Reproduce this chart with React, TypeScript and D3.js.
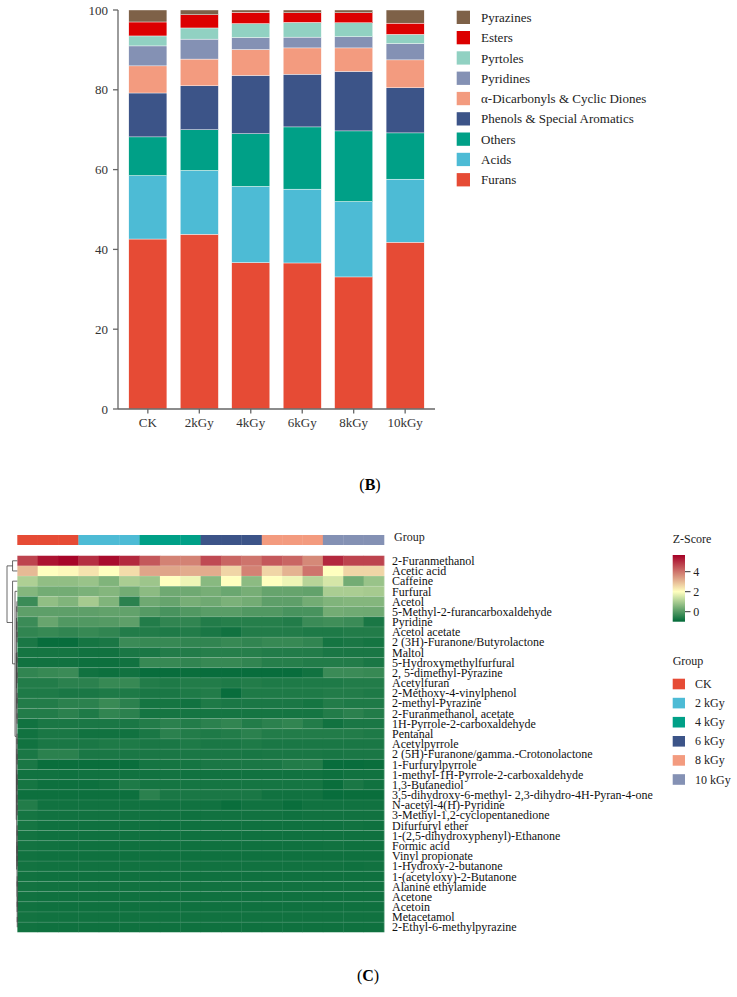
import React from 'react';
import * as d3 from 'd3';

// ---- panel B: relative content (%) of volatile classes
const groups = ['CK', '2kGy', '4kGy', '6kGy', '8kGy', '10kGy'];
const categories = [
  'Furans',
  'Acids',
  'Others',
  'Phenols & Special Aromatics',
  'α-Dicarbonyls & Cyclic Diones',
  'Pyridines',
  'Pyrtoles',
  'Esters',
  'Pyrazines',
];
const furans = [42.6, 43.8, 36.7, 36.6, 33.1, 41.8];
const acids = [15.9, 16.0, 19.1, 18.5, 18.9, 15.8];
const others = [9.7, 10.2, 13.2, 15.6, 17.7, 11.6];
const phenols = [11.0, 11.0, 14.6, 13.2, 14.9, 11.3];
const diones = [6.8, 6.7, 6.5, 6.6, 5.9, 7.0];
const pyridines = [5.0, 5.0, 3.0, 2.7, 2.8, 4.1];
const pyrtoles = [2.5, 2.8, 3.5, 3.7, 3.5, 2.3];
const esters = [3.5, 3.3, 2.8, 2.4, 2.5, 2.8];
const pyrazines = [3.0, 1.2, 0.6, 0.7, 0.7, 3.3];
const classColors = ['#E64B35', '#4DBBD5', '#00A087', '#3C5488', '#F39B7F', '#8491B4', '#91D1C2', '#DC0000', '#7E6148'];

// ---- panel C: heatmap
const heatGroups = ['CK', '2 kGy', '4 kGy', '6 kGy', '8 kGy', '10 kGy'];
const groupColors = ['#E64B35', '#4DBBD5', '#00A087', '#3C5488', '#F39B7F', '#8491B4'];
const compounds = [
  '2-Furanmethanol',
  'Acetic acid',
  'Caffeine',
  'Furfural',
  'Acetol',
  '5-Methyl-2-furancarboxaldehyde',
  'Pyridine',
  'Acetol acetate',
  '2 (3H)-Furanone/Butyrolactone',
  'Maltol',
  '5-Hydroxymethylfurfural',
  '2, 5-dimethyl-Pyrazine',
  'Acetylfuran',
  '2-Methoxy-4-vinylphenol',
  '2-methyl-Pyrazine',
  '2-Furanmethanol, acetate',
  '1H-Pyrrole-2-carboxaldehyde',
  'Pentanal',
  'Acetylpyrrole',
  '2 (5H)-Furanone/gamma.-Crotonolactone',
  '1-Furfurylpyrrole',
  '1-methyl-1H-Pyrrole-2-carboxaldehyde',
  '1,3-Butanediol',
  '3,5-dihydroxy-6-methyl- 2,3-dihydro-4H-Pyran-4-one',
  'N-acetyl-4(H)-Pyridine',
  '3-Methyl-1,2-cyclopentanedione',
  'Difurfuryl ether',
  '1-(2,5-dihydroxyphenyl)-Ethanone',
  'Formic acid',
  'Vinyl propionate',
  '1-Hydroxy-2-butanone',
  '1-(acetyloxy)-2-Butanone',
  'Alanine ethylamide',
  'Acetone',
  'Acetoin',
  'Metacetamol',
  '2-Ethyl-6-methylpyrazine',
];
const zScores = [
  [4.7, 5.4, 5.6, 5.0, 5.5, 5.1, 4.4, 3.8, 3.8, 4.6, 4.2, 4.0, 4.4, 4.2, 3.7, 5.1, 4.7, 4.7],
  [3.0, 2.0, 2.1, 2.4, 2.0, 2.5, 3.3, 3.3, 3.2, 3.2, 2.6, 3.8, 2.6, 3.1, 4.0, 2.0, 2.6, 2.6],
  [1.05, 0.7, 0.7, 0.8, 0.5, 1.0, 0.85, 2.0, 1.8, 0.6, 2.0, 0.65, 2.0, 1.8, 1.15, 1.5, 0.35, 0.8],
  [0.55, 0.35, 0.35, 0.45, 0.55, 0.35, 0.65, 0.3, 0.3, 0.4, 0.25, 0.4, 0.2, 0.2, 0.15, 1.0, 1.0, 0.95],
  [-0.3, 0.7, 0.5, 0.95, 0.5, -0.5, 0.3, 0.2, 0.4, 0.3, 0.45, 0.35, 0.1, 0.1, 0.35, 0.5, 0.55, 0.55],
  [0.1, 0.1, 0.1, 0.1, 0.15, 0.15, 0.0, -0.15, -0.05, 0.05, 0.05, -0.05, -0.05, -0.15, -0.15, 0.35, 0.32, 0.3],
  [-0.3, 0.22, -0.05, -0.05, 0.0, 0.1, -0.6, -0.42, -0.42, -0.6, -0.55, -0.55, -0.55, -0.6, -0.3, -0.25, -0.3, -0.7],
  [-0.42, -0.35, -0.42, -0.35, -0.42, -0.6, -0.6, -0.65, -0.6, -0.7, -0.8, -0.6, -0.6, -0.6, -0.65, -0.65, -0.6, -0.6],
  [-0.7, -0.9, -0.9, -0.75, -0.7, -0.3, -0.35, -0.35, -0.42, -0.42, -0.35, -0.42, -0.35, -0.35, -0.42, -0.75, -0.7, -0.75],
  [-0.75, -0.75, -0.75, -0.8, -0.8, -0.7, -0.7, -0.6, -0.6, -0.55, -0.55, -0.55, -0.6, -0.6, -0.6, -0.7, -0.7, -0.7],
  [-0.8, -0.8, -0.8, -0.85, -0.85, -0.8, -0.35, -0.35, -0.42, -0.35, -0.35, -0.42, -0.55, -0.55, -0.6, -0.6, -0.6, -0.7],
  [-0.42, -0.35, -0.3, -0.8, -0.85, -0.8, -0.9, -0.9, -0.88, -0.9, -0.9, -0.9, -0.9, -0.9, -0.8, -0.3, -0.3, -0.35],
  [-0.6, -0.6, -0.5, -0.5, -0.35, -0.35, -0.6, -0.65, -0.6, -0.6, -0.65, -0.6, -0.65, -0.65, -0.65, -0.65, -0.6, -0.6],
  [-0.65, -0.65, -0.7, -0.7, -0.65, -0.65, -0.7, -0.7, -0.65, -0.6, -0.9, -0.65, -0.65, -0.65, -0.65, -0.6, -0.6, -0.65],
  [-0.6, -0.6, -0.5, -0.5, -0.33, -0.5, -0.75, -0.75, -0.8, -0.65, -0.7, -0.7, -0.7, -0.7, -0.75, -0.6, -0.65, -0.65],
  [-0.6, -0.6, -0.5, -0.65, -0.42, -0.5, -0.75, -0.75, -0.75, -0.75, -0.75, -0.75, -0.75, -0.75, -0.75, -0.6, -0.5, -0.6],
  [-0.8, -0.7, -0.7, -0.7, -0.7, -0.7, -0.6, -0.5, -0.6, -0.5, -0.42, -0.6, -0.5, -0.42, -0.6, -0.8, -0.7, -0.7],
  [-0.8, -0.7, -0.7, -0.8, -0.8, -0.8, -0.7, -0.5, -0.6, -0.65, -0.6, -0.5, -0.6, -0.6, -0.6, -0.6, -0.6, -0.65],
  [-0.8, -0.7, -0.7, -0.7, -0.65, -0.65, -0.7, -0.7, -0.65, -0.7, -0.7, -0.65, -0.7, -0.7, -0.7, -0.7, -0.7, -0.7],
  [-0.7, -0.5, -0.5, -0.7, -0.7, -0.7, -0.7, -0.7, -0.7, -0.7, -0.7, -0.72, -0.7, -0.7, -0.7, -0.72, -0.7, -0.7],
  [-0.7, -0.88, -0.88, -0.88, -0.88, -0.88, -0.75, -0.75, -0.75, -0.7, -0.7, -0.7, -0.7, -0.6, -0.6, -0.9, -0.9, -0.88],
  [-0.8, -0.8, -0.82, -0.8, -0.8, -0.8, -0.8, -0.78, -0.8, -0.8, -0.8, -0.8, -0.8, -0.8, -0.8, -0.85, -0.8, -0.8],
  [-0.75, -0.85, -0.85, -0.85, -0.8, -0.65, -0.75, -0.75, -0.75, -0.75, -0.75, -0.75, -0.75, -0.75, -0.75, -0.88, -0.7, -0.8],
  [-0.85, -0.85, -0.85, -0.85, -0.85, -0.85, -0.5, -0.7, -0.7, -0.7, -0.7, -0.7, -0.8, -0.8, -0.8, -0.9, -0.88, -0.88],
  [-0.6, -0.8, -0.8, -0.8, -0.8, -0.8, -0.8, -0.8, -0.8, -0.8, -0.88, -0.8, -0.8, -0.88, -0.8, -0.8, -0.8, -0.8],
  [-0.75, -0.8, -0.8, -0.8, -0.8, -0.8, -0.8, -0.8, -0.82, -0.8, -0.8, -0.8, -0.8, -0.82, -0.8, -0.8, -0.8, -0.8],
  [-0.75, -0.82, -0.82, -0.82, -0.82, -0.82, -0.82, -0.85, -0.82, -0.82, -0.82, -0.82, -0.82, -0.82, -0.82, -0.82, -0.8, -0.82],
  [-0.78, -0.82, -0.82, -0.82, -0.82, -0.82, -0.82, -0.82, -0.82, -0.82, -0.82, -0.82, -0.82, -0.82, -0.82, -0.82, -0.82, -0.82],
  [-0.78, -0.8, -0.82, -0.82, -0.82, -0.82, -0.82, -0.82, -0.82, -0.82, -0.82, -0.82, -0.82, -0.82, -0.82, -0.8, -0.82, -0.82],
  [-0.8, -0.82, -0.82, -0.82, -0.82, -0.82, -0.82, -0.82, -0.82, -0.82, -0.82, -0.82, -0.82, -0.82, -0.82, -0.82, -0.82, -0.82],
  [-0.78, -0.8, -0.8, -0.8, -0.8, -0.8, -0.8, -0.8, -0.8, -0.8, -0.8, -0.8, -0.8, -0.8, -0.8, -0.8, -0.82, -0.8],
  [-0.8, -0.82, -0.82, -0.82, -0.82, -0.82, -0.82, -0.82, -0.82, -0.82, -0.82, -0.82, -0.82, -0.82, -0.82, -0.82, -0.82, -0.82],
  [-0.78, -0.8, -0.8, -0.8, -0.8, -0.8, -0.8, -0.8, -0.8, -0.8, -0.8, -0.8, -0.8, -0.8, -0.8, -0.8, -0.8, -0.8],
  [-0.8, -0.82, -0.82, -0.82, -0.82, -0.82, -0.82, -0.82, -0.82, -0.82, -0.82, -0.82, -0.82, -0.82, -0.82, -0.82, -0.82, -0.82],
  [-0.8, -0.82, -0.82, -0.82, -0.82, -0.82, -0.82, -0.82, -0.82, -0.82, -0.82, -0.82, -0.82, -0.82, -0.82, -0.82, -0.82, -0.82],
  [-0.78, -0.8, -0.8, -0.8, -0.8, -0.8, -0.8, -0.8, -0.8, -0.8, -0.8, -0.8, -0.8, -0.8, -0.8, -0.8, -0.8, -0.8],
  [-0.8, -0.82, -0.82, -0.82, -0.82, -0.82, -0.82, -0.82, -0.82, -0.82, -0.82, -0.82, -0.82, -0.82, -0.82, -0.82, -0.82, -0.82],
];

// row dendrogram: [height, left, right], leaves are row indices
type Node = number | [number, Node, Node];
const rowTree: Node = [10,
  [4.6, 0, 1],
  [4.6, 2,
    [2.2, 3,
      [1.0,
        [0.8,
          [0.6, [0.35, 4, 5], [0.3, 6, [0.2, 7, 8]]],
          [0.5, [0.3, [0.2, 9, 10], [0.25, 11, 12]], [0.3, [0.15, 13, 14], [0.15, 15, 16]]]],
        [0.6,
          [0.4, [0.25, [0.15, 17, 18], [0.12, 19, 20]], [0.3, [0.15, 21, 22], [0.2, 23, [0.1, 24, 25]]]],
          [0.3, [0.15, [0.08, 26, 27], [0.08, 28, [0.05, 29, 30]]], [0.15, [0.08, 31, 32], [0.1, [0.05, 33, 34], [0.05, 35, 36]]]]]]]]];

const zTicks = [0, 2, 4];

const FONT = "'Liberation Serif', 'Times New Roman', serif";

export default function App() {
  // ----- panel B scales
  const series = [furans, acids, others, phenols, diones, pyridines, pyrtoles, esters, pyrazines];
  const table = groups.map((g, i) => {
    const row: Record<string, number | string> = { group: g };
    categories.forEach((c, k) => (row[c] = series[k][i]));
    return row;
  });
  const stacked = d3.stack<Record<string, number | string>>().keys(categories)(table as any);

  const xB = d3.scaleBand().domain(groups).range([118, 435]).paddingInner(0.26).paddingOuter(0.21);
  const yB = d3.scaleLinear().domain([0, 100]).range([409, 10]);

  // ----- panel C scales
  const cols = d3.range(18);
  const xC = d3.scaleBand<number>().domain(cols).range([17.3, 384]);
  const yC = d3.scaleBand<number>().domain(d3.range(compounds.length)).range([555.7, 932.3]);
  const color = d3.scaleLinear<string>().domain([-1, 2, 5.67]).range(['#006837', '#FFFFBF', '#A50026']);
  const zBar = d3.scaleLinear().domain([-1, 5.67]).range([621.7, 555]);
  const hScale = d3.scaleLinear().domain([0, 10]).range([17.3, 7]);

  const segs: [number, number, number, number][] = [];
  const walk = (node: Node): { y: number; h: number } => {
    if (typeof node === 'number') return { y: (yC(node) ?? 0) + yC.bandwidth() / 2, h: 0 };
    const [h, l, r] = node;
    const a = walk(l);
    const b = walk(r);
    const x = hScale(h);
    segs.push([x, a.y, x, b.y]);
    segs.push([x, a.y, hScale(a.h), a.y]);
    segs.push([x, b.y, hScale(b.h), b.y]);
    return { y: (a.y + b.y) / 2, h };
  };
  walk(rowTree);

  const gradStops = d3.range(0, 1.0001, 0.05);

  return (
    <svg width={737} height={997} style={{ position: 'absolute', left: 0, top: 0, background: '#fff', fontFamily: FONT }}>
      <defs>
        <linearGradient id="zgrad" x1="0" y1="1" x2="0" y2="0">
          {gradStops.map(t => (
            <stop key={t} offset={t} stopColor={color(-1 + t * 6.67)} />
          ))}
        </linearGradient>
      </defs>

      {/* ===== Panel B ===== */}
      <g>
        {stacked.map((s, k) => (
          <g key={s.key} fill={classColors[k]}>
            {s.map((d, i) => (
              <rect
                key={i}
                x={xB(groups[i])}
                y={yB(d[1])}
                width={xB.bandwidth()}
                height={yB(d[0]) - yB(d[1])}
                stroke="#fff"
                strokeWidth={0.4}
              />
            ))}
          </g>
        ))}
        <line x1={118} x2={118} y1={yB(100)} y2={yB(0)} stroke="#666" strokeWidth={1.3} />
        <line x1={118} x2={435} y1={yB(0)} y2={yB(0)} stroke="#666" strokeWidth={1.3} />
        {yB.ticks(5).map(t => (
          <g key={t}>
            <line x1={113} x2={118} y1={yB(t)} y2={yB(t)} stroke="#666" strokeWidth={1.3} />
            <text x={108} y={yB(t) + 4.5} textAnchor="end" fontSize={13} fill="#333">{t}</text>
          </g>
        ))}
        {groups.map(g => {
          const cx = (xB(g) ?? 0) + xB.bandwidth() / 2;
          return (
            <g key={g}>
              <line x1={cx} x2={cx} y1={409} y2={413.5} stroke="#666" strokeWidth={1.3} />
              <text x={cx} y={427} textAnchor="middle" fontSize={13} fill="#333">{g}</text>
            </g>
          );
        })}
        {categories.slice().reverse().map((c, i) => {
          const k = categories.length - 1 - i;
          const cy = 17.4 + i * 20.3;
          return (
            <g key={c}>
              <rect x={456.7} y={cy - 6.7} width={13.3} height={13.3} fill={classColors[k]} />
              <text x={481} y={cy + 4.5} fontSize={13} fill="#222">{c}</text>
            </g>
          );
        })}
        <text x={370} y={490} textAnchor="middle" fontSize={16} fill="#000">
          (<tspan fontWeight="bold">B</tspan>)
        </text>
      </g>

      {/* ===== Panel C ===== */}
      <g>
        {cols.map(c => (
          <rect key={c} x={xC(c)} y={535} width={xC.bandwidth() + 0.3} height={10} fill={groupColors[Math.floor(c / 3)]} />
        ))}
        <text x={394} y={540.5} fontSize={12} fill="#222">Group</text>

        {zScores.map((row, r) =>
          row.map((v, c) => (
            <rect
              key={`${r}-${c}`}
              x={xC(c)}
              y={yC(r)}
              width={xC.bandwidth() + 0.4}
              height={yC.bandwidth()}
              fill={color(v)}
            />
          )),
        )}
        {compounds.slice(1).map((_, r) => (
          <line
            key={r}
            x1={17.3}
            x2={384}
            y1={yC(r + 1)}
            y2={yC(r + 1)}
            stroke="#ffffff"
            strokeOpacity={0.14}
            strokeWidth={0.8}
          />
        ))}
        <rect x={17.3} y={555.7} width={366.7} height={376.6} fill="none" stroke="#ffffff" strokeOpacity={0.2} strokeWidth={0.6} />
        {compounds.map((name, r) => (
          <text key={name} x={392} y={(yC(r) ?? 0) + yC.bandwidth() / 2 + 4.2} fontSize={12} fill="#111">{name}</text>
        ))}

        {segs.map((s, i) => (
          <line key={i} x1={s[0]} y1={s[1]} x2={s[2]} y2={s[3]} stroke="#444" strokeWidth={0.8} />
        ))}

        {/* Z-score legend */}
        <text x={672.7} y={543} fontSize={12} fill="#222">Z-Score</text>
        <rect x={672.7} y={555} width={12.3} height={66.7} fill="url(#zgrad)" />
        {zTicks.map(t => (
          <g key={t}>
            <line x1={685} x2={690.5} y1={zBar(t)} y2={zBar(t)} stroke="#333" strokeWidth={1} />
            <text x={693.3} y={zBar(t) + 4} fontSize={12} fill="#222">{t}</text>
          </g>
        ))}

        {/* Group legend */}
        <text x={672.7} y={665} fontSize={12} fill="#222">Group</text>
        {heatGroups.map((g, i) => {
          const cy = 684 + i * 19.1;
          return (
            <g key={g}>
              <rect x={672.7} y={cy - 5.3} width={12.3} height={10.6} fill={groupColors[i]} />
              <text x={695} y={cy + 4} fontSize={12} fill="#222">{g}</text>
            </g>
          );
        })}

        <text x={368} y={981} textAnchor="middle" fontSize={16} fill="#000">
          (<tspan fontWeight="bold">C</tspan>)
        </text>
      </g>
    </svg>
  );
}
